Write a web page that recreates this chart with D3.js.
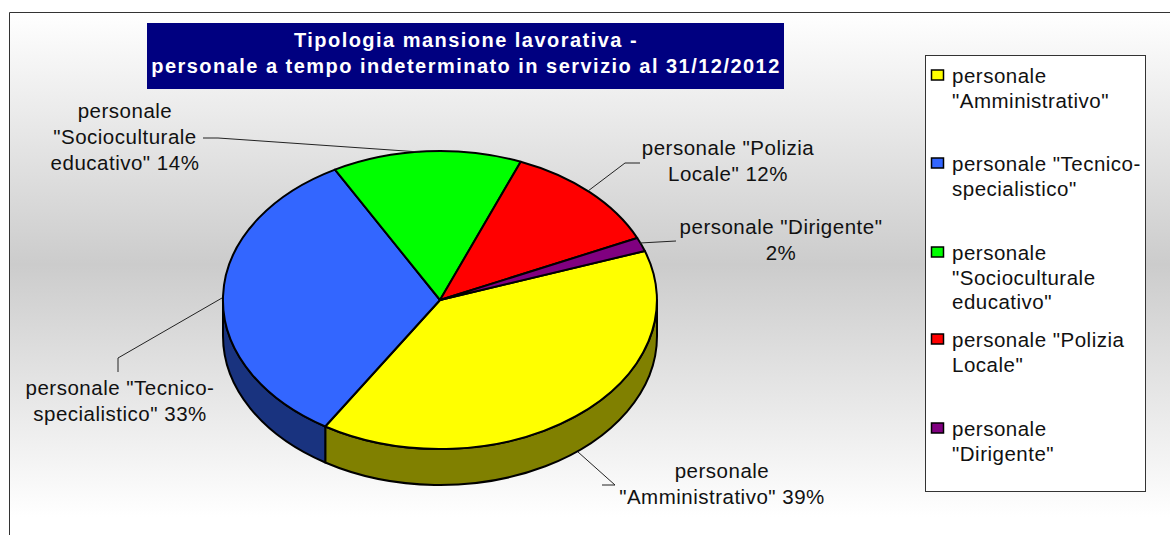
<!DOCTYPE html>
<html>
<head>
<meta charset="utf-8">
<script src="https://cdn.jsdelivr.net/npm/d3@7"></script>
<style>
  html, body { margin: 0; padding: 0; background: #fff; overflow: hidden; }
  svg { display: block; }
  text { font-family: "Liberation Sans", Arial, sans-serif; fill: #111; }
</style>
</head>
<body>
<div id="chart"></div>
<script>
const categories = ['Amministrativo', 'Tecnico-specialistico', 'Socioculturale educativo', 'Polizia Locale', 'Dirigente'];
const shares = [39.2, 33.1, 14.1, 12.1, 1.5];
const topColors = ['#ffff00', '#3366ff', '#00ff00', '#ff0000', '#800080'];
const sideColors = ['#808000', '#19337f', '#008000', '#800000', '#400040'];

const titleLines = ['Tipologia mansione lavorativa -', 'personale a tempo indeterminato in servizio al 31/12/2012'];

const legendLines = [
  ['personale', '"Amministrativo"'],
  ['personale "Tecnico-', 'specialistico"'],
  ['personale', '"Socioculturale', 'educativo"'],
  ['personale "Polizia', 'Locale"'],
  ['personale', '"Dirigente"']
];
const legendTops = [83, 171, 260, 347, 436];

const labelLines = [
  ['personale', '"Amministrativo" 39%'],
  ['personale "Tecnico-', 'specialistico" 33%'],
  ['personale', '"Socioculturale', 'educativo" 14%'],
  ['personale "Polizia', 'Locale" 12%'],
  ['personale "Dirigente"', '2%']
];
const labelCenters = [[722, 478], [120, 395], [125, 118], [728, 155], [781, 234]];
const leaders = [
  [[602, 485], [615, 485], [578, 452]],
  [[118, 372], [118, 358], [222, 298]],
  [[203, 138], [218, 138], [420, 152]],
  [[640, 163], [625, 163], [588, 191]],
  [[676, 241], [640, 243]]
];

const width = 1170;
const height = 535;
const cx = 440;
const cy = 300;
const rx = 217;
const ry = 149;
const depth = 36;
const rad = Math.PI / 180;

const svg = d3.select('#chart').append('svg')
  .attr('width', width)
  .attr('height', height);

const grad = svg.append('defs').append('linearGradient')
  .attr('id', 'bg')
  .attr('x1', 0).attr('y1', 0).attr('x2', 0).attr('y2', 1);
grad.append('stop').attr('offset', '0%').attr('stop-color', '#ffffff');
grad.append('stop').attr('offset', '50%').attr('stop-color', '#cccccc');
grad.append('stop').attr('offset', '100%').attr('stop-color', '#ffffff');

svg.append('rect')
  .attr('x', 9).attr('y', 12)
  .attr('width', width).attr('height', 505)
  .attr('fill', 'url(#bg)');
svg.append('path')
  .attr('d', `M9.5,${height}V12.5H${width}`)
  .attr('fill', 'none')
  .attr('stroke', '#333')
  .attr('stroke-width', 1);

// title box
svg.append('rect')
  .attr('x', 147).attr('y', 23)
  .attr('width', 637).attr('height', 66)
  .attr('fill', '#000080');
svg.selectAll('.title')
  .data(titleLines)
  .join('text')
  .attr('class', 'title')
  .attr('x', 466)
  .attr('y', (d, i) => 47 + i * 26)
  .attr('text-anchor', 'middle')
  .attr('font-size', 20)
  .attr('font-weight', 'bold')
  .attr('letter-spacing', 1.47)
  .style('fill', '#fff')
  .text(d => d);

// pie: angles run clockwise from 12 o'clock, then get squashed into an ellipse
const pie = d3.pie().sort(null)
  .startAngle(70.8 * rad)
  .endAngle((70.8 + 360) * rad);
const arcs = pie(shares);

const px = a => cx + rx * Math.sin(a);
const py = a => cy - ry * Math.cos(a);

// side walls, only the front half of the rim shows
const front0 = 90 * rad;
const front1 = 270 * rad;
const walls = arcs.map((d, i) => ({
  i,
  a0: Math.max(d.startAngle, front0),
  a1: Math.min(d.endAngle, front1)
})).filter(d => d.a1 > d.a0);

svg.append('g').selectAll('path')
  .data(walls)
  .join('path')
  .attr('d', d => `M${px(d.a0)},${py(d.a0)}`
    + `A${rx},${ry} 0 0 1 ${px(d.a1)},${py(d.a1)}`
    + `V${py(d.a1) + depth}`
    + `A${rx},${ry} 0 0 0 ${px(d.a0)},${py(d.a0) + depth}Z`)
  .attr('fill', d => sideColors[d.i])
  .attr('stroke', '#000')
  .attr('stroke-width', 2)
  .attr('stroke-linejoin', 'round');

const arc = d3.arc().innerRadius(0).outerRadius(1);
svg.append('g')
  .attr('transform', `translate(${cx},${cy}) scale(${rx},${ry})`)
  .selectAll('path')
  .data(arcs)
  .join('path')
  .attr('d', arc)
  .attr('fill', (d, i) => topColors[i])
  .attr('stroke', '#000')
  .attr('stroke-width', 2)
  .attr('stroke-linejoin', 'round')
  .attr('vector-effect', 'non-scaling-stroke');

// leader lines
const line = d3.line();
svg.append('g').selectAll('path')
  .data(leaders)
  .join('path')
  .attr('d', d => line(d))
  .attr('fill', 'none')
  .attr('stroke', '#222')
  .attr('stroke-width', 1);

// data labels
const labels = svg.append('g').selectAll('text')
  .data(labelLines)
  .join('text')
  .attr('text-anchor', 'middle')
  .attr('font-size', 20.5)
  .attr('letter-spacing', 0.5);
labels.selectAll('tspan')
  .data((d, i) => d.map((t, j) => ({ t, j, i })))
  .join('tspan')
  .attr('x', d => labelCenters[d.i][0])
  .attr('y', d => labelCenters[d.i][1] + d.j * 26)
  .text(d => d.t);

// legend
svg.append('rect')
  .attr('x', 925.5).attr('y', 55.5)
  .attr('width', 220).attr('height', 436)
  .attr('fill', '#fff')
  .attr('stroke', '#333')
  .attr('stroke-width', 1);

const legendRows = svg.append('g').selectAll('g')
  .data(legendLines)
  .join('g')
  .attr('transform', (d, i) => `translate(0,${legendTops[i]})`);
legendRows.append('rect')
  .attr('x', 931.5).attr('y', -13)
  .attr('width', 12).attr('height', 10)
  .attr('fill', (d, i) => topColors[i])
  .attr('stroke', '#000')
  .attr('stroke-width', 1.5);
legendRows.selectAll('text')
  .data(d => d)
  .join('text')
  .attr('x', 952)
  .attr('y', (d, j) => j * 24.6)
  .attr('font-size', 20.5)
  .attr('letter-spacing', 0.5)
  .text(d => d);
</script>
</body>
</html>
